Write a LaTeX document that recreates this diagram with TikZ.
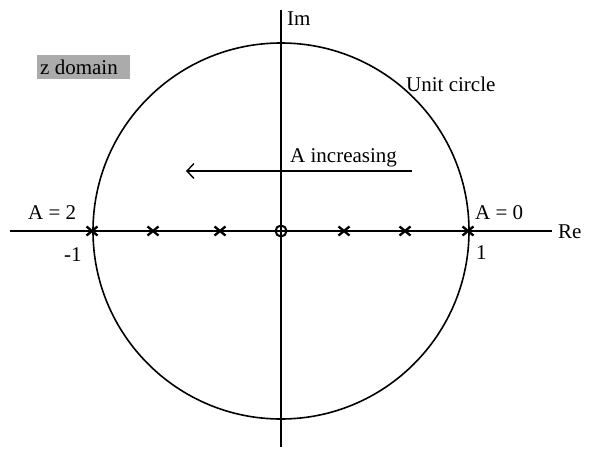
\documentclass[tikz,border=0pt]{standalone}
\usepackage{fontspec}
\setmainfont{Liberation Serif}
\usetikzlibrary{arrows.meta}
\begin{document}
\begin{tikzpicture}[x=1pt,y=-1pt,
  lbl/.style={inner sep=0pt,anchor=base west,font=\fontsize{21}{24}\selectfont},
  axisline/.style={line width=2.1pt},
  cross/.style={line width=2.3pt},
  pole/.pic={\draw[cross] (-5.5,-4.5) -- (5.5,4.5) (-5.5,4.5) -- (5.5,-4.5);}
]
\useasboundingbox (0,0) rectangle (591,449);
% coordinates
\coordinate (o) at (281,231);
\coordinate (xl) at (10,231);
\coordinate (xr) at (552,231);
\coordinate (yt) at (281,10);
\coordinate (yb) at (281,447);
% unit circle
\draw[line width=1.6pt] (o) circle[radius=188];
% axes
\draw[axisline] (xl) -- (xr);
\draw[axisline] (yt) -- (yb);
% poles
\foreach \px/\nm in {92/p1,153/p2,220/p3,344/p4,405/p5,468/p6}{
  \coordinate (\nm) at (\px,231);
  \pic at (\nm) {pole};
}
% zero
\draw[line width=2pt] (o) circle[radius=5.5];
% arrow
\coordinate (as) at (412,171);
\coordinate (ae) at (186,171);
\draw[line width=1.2pt,-{Straight Barb[length=7pt,width=15pt,line width=1.4pt]}] (as) -- (ae);
% labels
\node[lbl] (im) at (287,26) {Im};
\node[lbl] (re) at (558,238) {Re};
\node[lbl] (uc) at (406,92) {Unit circle};
\node[lbl] (ai) at (290,163) {A increasing};
\node[lbl] (a2) at (28,219) {A = 2};
\node[lbl] (a0) at (475,219) {A = 0};
\node[lbl] (m1) at (64,261) {-1};
\node[lbl] (p1l) at (476,259) {1};
\fill[black!33] (37,55) rectangle (130,79);
\node[lbl] (zd) at (40,75) {z domain};
\end{tikzpicture}
\end{document}
